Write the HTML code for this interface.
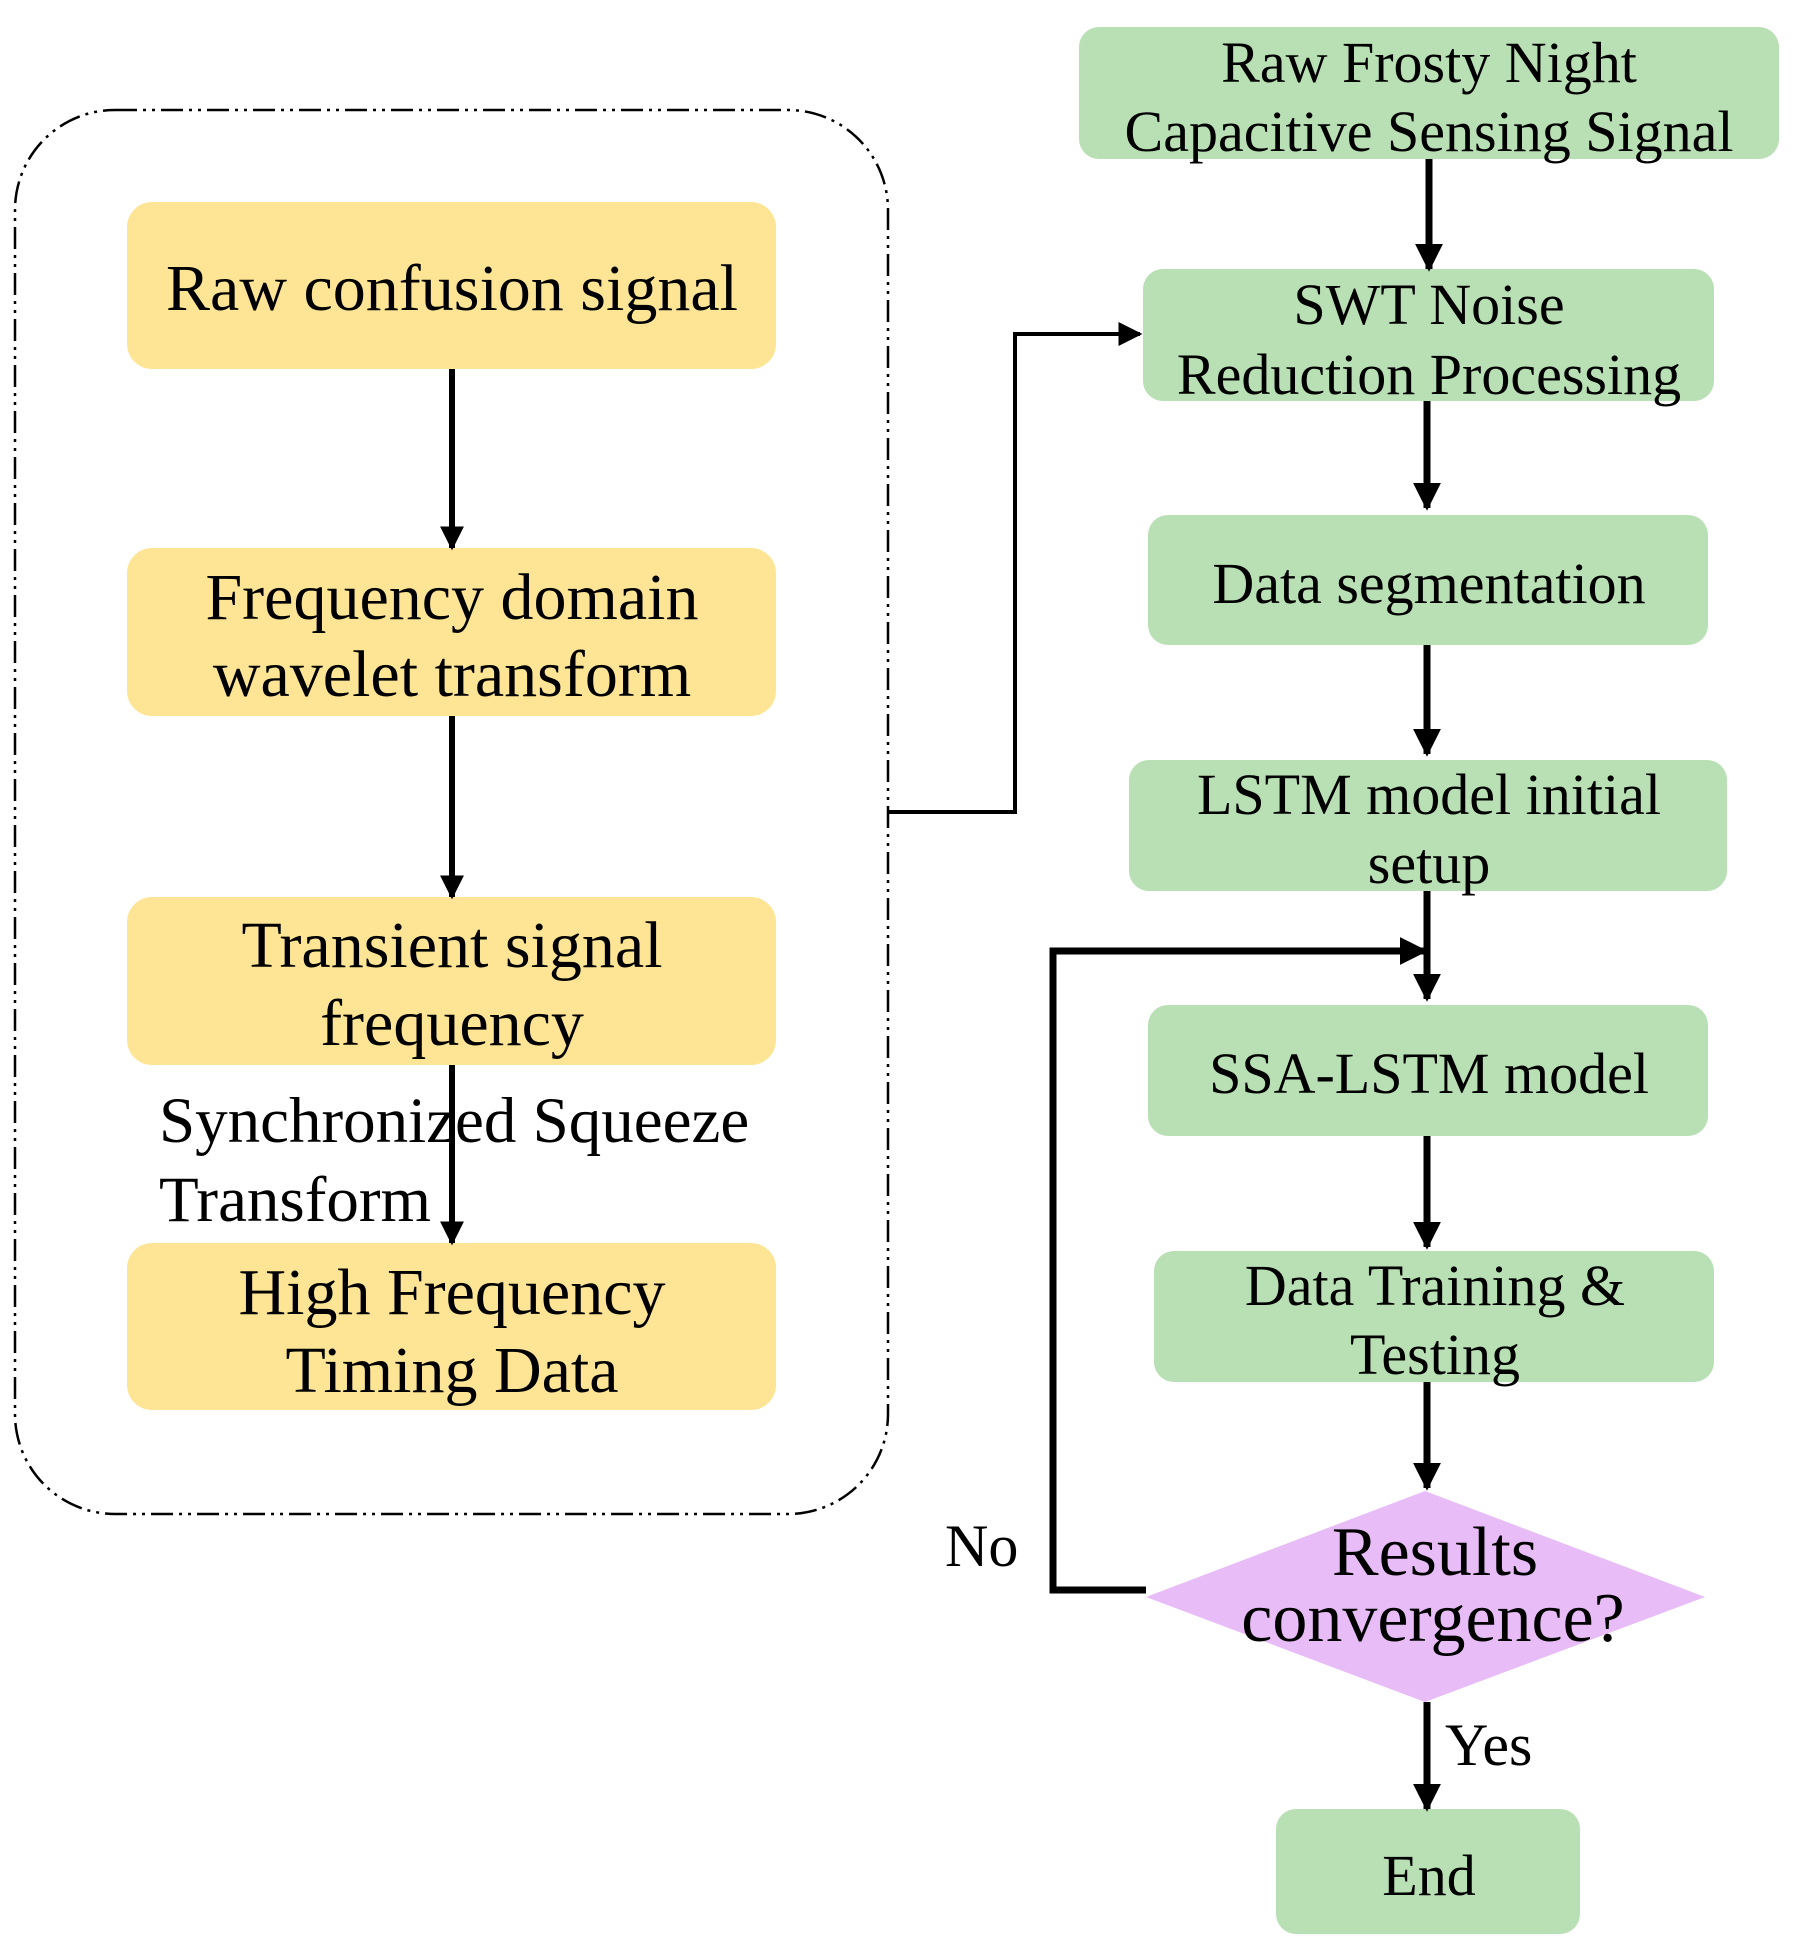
<!DOCTYPE html>
<html><head><style>
body{margin:0;background:#fff}
svg text{font-family:"Liberation Serif",serif;fill:#000}
</style></head><body>
<svg width="1794" height="1949" viewBox="0 0 1794 1949" xmlns="http://www.w3.org/2000/svg">
<defs>
<marker id="a" viewBox="0 0 10 10" refX="9" refY="5" markerWidth="4" markerHeight="4" orient="auto" markerUnits="strokeWidth"><path d="M0,0L10,5L0,10z" fill="#000"/></marker>
<marker id="b" viewBox="0 0 10 10" refX="9" refY="5" markerWidth="6" markerHeight="6" orient="auto" markerUnits="strokeWidth"><path d="M0,0L10,5L0,10z" fill="#000"/></marker>
</defs>
<rect x="15" y="110" width="873" height="1404" rx="100" fill="none" stroke="#000" stroke-width="2.5" stroke-dasharray="22,6,3,6,3,6"/>
<g fill="#FDE595">
<rect x="127" y="202" width="649" height="167" rx="25"/>
<rect x="127" y="548" width="649" height="168" rx="25"/>
<rect x="127" y="897" width="649" height="168" rx="25"/>
<rect x="127" y="1243" width="649" height="167" rx="25"/>
</g>
<g stroke="#000" stroke-width="6" fill="none" marker-end="url(#a)">
<line x1="452" y1="369" x2="452" y2="548"/>
<line x1="452" y1="716" x2="452" y2="897"/>
<line x1="452" y1="1065" x2="452" y2="1243"/>
</g>
<g font-size="66" text-anchor="middle">
<text x="452" y="310">Raw confusion signal</text>
<text x="452" y="619">Frequency domain</text>
<text x="452" y="696">wavelet transform</text>
<text x="452" y="967">Transient signal</text>
<text x="452" y="1045">frequency</text>
<text x="452" y="1314">High Frequency</text>
<text x="452" y="1392">Timing Data</text>
</g>
<g font-size="65">
<text x="159" y="1142">Synchronized Squeeze</text>
<text x="159" y="1221">Transform</text>
</g>
<g fill="#B9E0B4">
<rect x="1079" y="27" width="700" height="132" rx="20"/>
<rect x="1143" y="269" width="571" height="132" rx="20"/>
<rect x="1148" y="515" width="560" height="130" rx="20"/>
<rect x="1129" y="760" width="598" height="131" rx="20"/>
<rect x="1148" y="1005" width="560" height="131" rx="20"/>
<rect x="1154" y="1251" width="560" height="131" rx="20"/>
<rect x="1276" y="1809" width="304" height="125" rx="20"/>
</g>
<polygon points="1146,1597 1425,1491 1705,1597 1425,1702" fill="#E8BCF7"/>
<polyline points="888,812 1015,812 1015,334 1140,334" fill="none" stroke="#000" stroke-width="4" marker-end="url(#b)"/>
<g stroke="#000" stroke-width="7" fill="none" marker-end="url(#a)">
<line x1="1429" y1="159" x2="1429" y2="269"/>
<line x1="1427" y1="401" x2="1427" y2="508"/>
<line x1="1427" y1="645" x2="1427" y2="754"/>
<line x1="1427" y1="891" x2="1427" y2="999"/>
<line x1="1427" y1="1136" x2="1427" y2="1247"/>
<line x1="1427" y1="1382" x2="1427" y2="1488"/>
<line x1="1427" y1="1702" x2="1427" y2="1809"/>
<polyline points="1146,1590 1053,1590 1053,951 1425,951"/>
</g>
<g font-size="58" text-anchor="middle">
<text x="1429" y="82">Raw Frosty Night</text>
<text x="1429" y="151">Capacitive Sensing Signal</text>
<text x="1429" y="324">SWT Noise</text>
<text x="1429" y="394">Reduction Processing</text>
<text x="1429" y="603">Data segmentation</text>
<text x="1429" y="814">LSTM model initial</text>
<text x="1429" y="883">setup</text>
<text x="1429" y="1093">SSA-LSTM model</text>
<text x="1435" y="1305">Data Training &amp;</text>
<text x="1435" y="1374">Testing</text>
<text x="1429" y="1895">End</text>
</g>
<g font-size="70" text-anchor="middle">
<text x="1435" y="1575">Results</text>
<text x="1433" y="1641">convergence?</text>
</g>
<g font-size="60">
<text x="945" y="1566">No</text>
<text x="1445" y="1765">Yes</text>
</g>
</svg>
</body></html>
